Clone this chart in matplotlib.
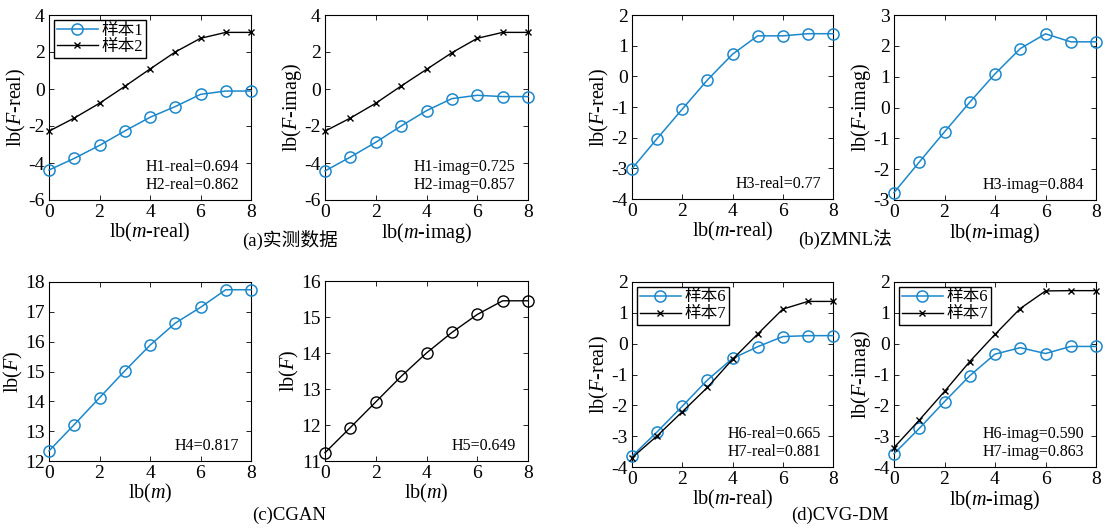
import matplotlib
matplotlib.use("Agg")
import matplotlib.pyplot as plt

plt.rcParams['font.family'] = ['Liberation Serif', 'Noto Sans CJK SC']
plt.rcParams['mathtext.fontset'] = 'custom'
plt.rcParams['mathtext.rm'] = 'Liberation Serif'
plt.rcParams['mathtext.it'] = 'Liberation Serif:italic'
plt.rcParams['axes.linewidth'] = 0.8
plt.rcParams['axes.unicode_minus'] = False

BLUE = '#1b88cc'

x = [0, 1, 2, 3, 4, 5, 6, 7, 8]

# (a) measured data
a_real_s1 = [-4.38, -3.75, -3.05, -2.27, -1.53, -0.95, -0.29, -0.11, -0.11]
a_real_s2 = [-2.28, -1.57, -0.77, 0.14, 1.08, 2.0, 2.74, 3.06, 3.06]
a_imag_s1 = [-4.43, -3.68, -2.88, -2.0, -1.17, -0.52, -0.34, -0.41, -0.41]
a_imag_s2 = [-2.28, -1.57, -0.77, 0.16, 1.06, 1.96, 2.74, 3.06, 3.06]
# (b) ZMNL
b_real = [-3.01, -2.03, -1.07, -0.12, 0.72, 1.32, 1.32, 1.39, 1.39]
b_imag = [-2.76, -1.77, -0.79, 0.17, 1.09, 1.91, 2.39, 2.13, 2.13]
# (c) CGAN
c_s4 = [12.34, 13.22, 14.12, 15.02, 15.88, 16.62, 17.15, 17.74, 17.74]
c_s5 = [11.23, 11.93, 12.64, 13.35, 14.0, 14.57, 15.07, 15.45, 15.45]
# (d) CVG-DM
d_real_s6 = [-3.65, -2.86, -2.03, -1.18, -0.48, -0.1, 0.23, 0.26, 0.26]
d_real_s7 = [-3.70, -2.99, -2.21, -1.42, -0.51, 0.31, 1.12, 1.37, 1.37]
d_imag_s6 = [-3.57, -2.75, -1.88, -1.04, -0.34, -0.13, -0.32, -0.09, -0.09]
d_imag_s7 = [-3.37, -2.48, -1.55, -0.58, 0.30, 1.14, 1.71, 1.72, 1.72]

W, H = 1105, 528
fig = plt.figure(figsize=(W / 100, H / 100), dpi=100)


def make_ax(l, t, r, b):
    return fig.add_axes([l / W, 1 - b / H, (r - l) / W, (b - t) / H])


def style(ax, ylim, yticks, xlabel, ylabel):
    ax.set_xlim(0, 8)
    ax.set_ylim(*ylim)
    ax.set_xticks([0, 2, 4, 6, 8])
    ax.set_yticks(yticks)
    ax.tick_params(direction='in', top=True, right=True, labelsize=14,
                   length=3.5, width=0.6, pad=3)
    ax.set_xlabel(xlabel, fontsize=14.5, labelpad=0)
    ax.set_ylabel(ylabel, fontsize=14.5, labelpad=0)


def blue(ax, y, label=None):
    ax.plot(x, y, color=BLUE, lw=1.1, marker='o', ms=8, mfc='none',
            mec=BLUE, mew=1.1, label=label, clip_on=False, zorder=3)


def black(ax, y, label=None, marker='x', ms=4.5):
    ax.plot(x, y, color='black', lw=1.0, marker=marker, ms=ms, mfc='none',
            mec='black', mew=1.0, label=label, clip_on=False, zorder=3)


def note(ax, lines):
    ax.text(0.94, 0.04, '\n'.join(lines), transform=ax.transAxes,
            ha='right', va='bottom', fontsize=11.5, linespacing=1.15)


def leg(ax):
    ax.legend(loc='upper left', fontsize=12, frameon=True, fancybox=False,
              edgecolor='black', framealpha=1, borderpad=0.15,
              handlelength=2.5, handletextpad=0.2, labelspacing=0.05,
              borderaxespad=0.3)


yt6 = [-6, -4, -2, 0, 2, 4]

ax1 = make_ax(49, 15, 251, 200)
blue(ax1, a_real_s1, '样本1')
black(ax1, a_real_s2, '样本2')
style(ax1, (-6, 4), yt6, r'lb($\mathit{m}$-real)', r'lb($\mathit{F}$-real)')
leg(ax1)
note(ax1, ['H1-real=0.694', 'H2-real=0.862'])

ax2 = make_ax(325, 15, 528, 200)
blue(ax2, a_imag_s1)
black(ax2, a_imag_s2)
style(ax2, (-6, 4), yt6, r'lb($\mathit{m}$-imag)', r'lb($\mathit{F}$-imag)')
note(ax2, ['H1-imag=0.725', 'H2-imag=0.857'])

ax3 = make_ax(632, 15, 833, 199)
blue(ax3, b_real)
style(ax3, (-4, 2), range(-4, 3), r'lb($\mathit{m}$-real)', r'lb($\mathit{F}$-real)')
note(ax3, ['H3-real=0.77'])

ax4 = make_ax(894, 15, 1096, 200)
blue(ax4, b_imag)
style(ax4, (-3, 3), range(-3, 4), r'lb($\mathit{m}$-imag)', r'lb($\mathit{F}$-imag)')
note(ax4, ['H3-imag=0.884'])

ax5 = make_ax(49, 282, 251, 461)
blue(ax5, c_s4)
style(ax5, (12, 18), range(12, 19), r'lb($\mathit{m}$)', r'lb($\mathit{F}$)')
note(ax5, ['H4=0.817'])

ax6 = make_ax(325, 281, 528, 461)
black(ax6, c_s5, marker='o', ms=8)
style(ax6, (11, 16), range(11, 17), r'lb($\mathit{m}$)', r'lb($\mathit{F}$)')
note(ax6, ['H5=0.649'])

ax7 = make_ax(632, 282, 833, 467)
blue(ax7, d_real_s6, '样本6')
black(ax7, d_real_s7, '样本7')
style(ax7, (-4, 2), range(-4, 3), r'lb($\mathit{m}$-real)', r'lb($\mathit{F}$-real)')
leg(ax7)
note(ax7, ['H6-real=0.665', 'H7-real=0.881'])

ax8 = make_ax(894, 282, 1096, 467)
blue(ax8, d_imag_s6, '样本6')
black(ax8, d_imag_s7, '样本7')
style(ax8, (-4, 2), range(-4, 3), r'lb($\mathit{m}$-imag)', r'lb($\mathit{F}$-imag)')
leg(ax8)
note(ax8, ['H6-imag=0.590', 'H7-imag=0.863'])

for cx, cy, txt in [(290, 240, '(a)实测数据'), (845, 240, '(b)ZMNL法'),
                    (289, 515, '(c)CGAN'), (840, 515, '(d)CVG-DM')]:
    fig.text(cx / W, 1 - cy / H, txt, ha='center', va='center', fontsize=13.5)

fig.savefig('out.png', dpi=100)
